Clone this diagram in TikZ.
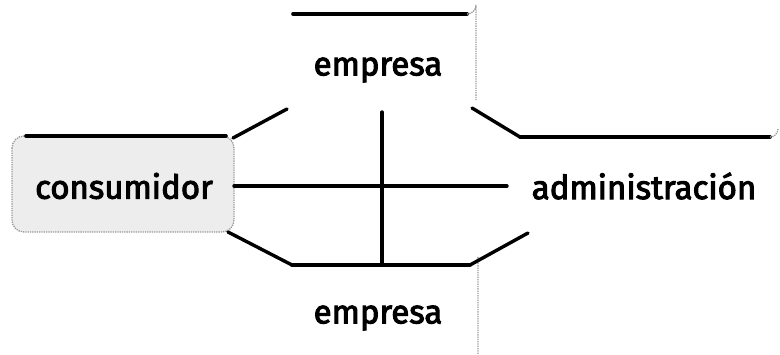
\documentclass[tikz,border=0pt]{standalone}
\usepackage{fontspec}
\setmainfont{Fira Sans}
\newfontfamily\lblfont[BoldFont={Fira Sans},BoldFeatures={FakeBold=3}]{Fira Sans}
\begin{document}
\begin{tikzpicture}[x=1pt,y=-1pt,
  lbl/.style={font=\lblfont\bfseries\fontsize{33}{38}\selectfont, inner sep=0pt},
  conn/.style={line width=3.4pt, line cap=round, line join=round},
  topedge/.style={line width=3.6pt, line cap=round},
  speck/.style={draw=black!40, densely dotted, line width=1.3pt}]
\useasboundingbox (0,0) rectangle (780,354);

% left box background (speckled)
\fill[black!7, rounded corners=12pt] (12,136) rectangle (234,232);
\draw[speck, rounded corners=12pt] (12,136) rectangle (234,232);

% text nodes
\node[lbl] (emp1) at (378,70) {empresa};
\node[lbl] (cons) at (124,186) {consumidor};
\node[lbl] (adm) at (644,186) {administración};
\node[lbl] (emp2) at (378,318) {empresa};

% box corners
\coordinate (TL) at (287,109);
\coordinate (TR) at (472,108);
\coordinate (LT) at (233,138);
\coordinate (LB) at (228,232);
\coordinate (RT) at (520,137);
\coordinate (RB) at (528,233);
\coordinate (BL) at (292,265);
\coordinate (BR) at (470,265);
\coordinate (V1) at (382,112);
\coordinate (V2) at (382,265);
\coordinate (H1) at (234,186);
\coordinate (H2) at (507,186);

% left box top edge
\draw[topedge] (26,136) -- (226,136);

% top box
\draw[topedge] (293,14) -- (467,14);
\draw[speck] (467,14) arc (90:0:9) -- (476,100);

% right box
\draw[topedge] (RT) -- (770,137);
\draw[speck] (770,137) arc (90:0:8);

% bottom box
\draw[topedge] (BL) -- (BR);
\draw[speck] (BR) arc (90:0:8) -- (478,354);

% connectors
\draw[conn] (TL) -- (LT);
\draw[conn] (TR) -- (RT);
\draw[conn] (LB) -- (BL);
\draw[conn] (BR) -- (RB);
\draw[conn] (V1) -- (V2);
\draw[conn] (H1) -- (H2);
\end{tikzpicture}
\end{document}
